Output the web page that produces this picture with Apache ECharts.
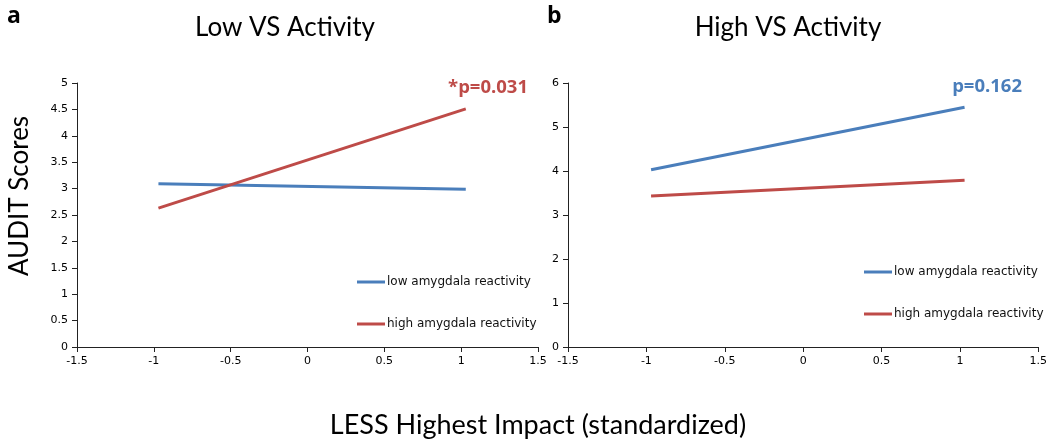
<!DOCTYPE html>
<html>
<head>
<meta charset="utf-8">
<script src="https://cdn.jsdelivr.net/npm/echarts@6/dist/echarts.min.js"></script>
<style>html,body{margin:0;padding:0;background:#fff}#c{width:1050px;height:440px}</style>
</head>
<body>
<div id="c"></div>
<script>
// ---- data ----
const xPoints = [-0.97, 1.03];
const lowVS_low = [3.09, 2.99];   // low amygdala reactivity (panel a)
const lowVS_high = [2.63, 4.51];  // high amygdala reactivity (panel a)
const highVS_low = [4.03, 5.45];  // panel b
const highVS_high = [3.43, 3.79]; // panel b
const xTickLabels = ['-1.5', '-1', '-0.5', '0', '0.5', '1', '1.5'];
const yTickLabelsA = ['0', '0.5', '1', '1.5', '2', '2.5', '3', '3.5', '4', '4.5', '5'];
const yTickLabelsB = ['0', '1', '2', '3', '4', '5', '6'];
const seriesNames = ['low amygdala reactivity', 'high amygdala reactivity'];
const panelTitles = ['Low VS Activity', 'High VS Activity'];
const panelLetters = ['a', 'b'];
const pLabels = ['*p=0.031', 'p=0.162'];
const yAxisTitle = 'AUDIT Scores';
const xAxisTitle = 'LESS Highest Impact (standardized)';

const BLUE = '#4a7ebb';
const RED = '#be4b48';
const AX = '#222';
const tickFont = { fontFamily: 'DejaVu Sans', fontSize: 11, color: '#000' };

function pairs(ys) { return xPoints.map((x, i) => [x, ys[i]]); }
function xLab(v) { const i = Math.round((v + 1.5) / 0.5); return xTickLabels[i] ?? ''; }

function xAxis(gi) {
  return {
    gridIndex: gi, type: 'value', min: -1.5, max: 1.5, interval: 0.5,
    axisLine: { onZero: false, lineStyle: { color: AX, width: 1 } },
    axisTick: { show: true, inside: false, length: 5, lineStyle: { color: AX } },
    axisLabel: Object.assign({ margin: 9, formatter: xLab }, tickFont),
    splitLine: { show: false }
  };
}
function yAxis(gi, max, interval, labels) {
  return {
    gridIndex: gi, type: 'value', min: 0, max: max, interval: interval,
    axisLine: { show: true, onZero: false, lineStyle: { color: AX, width: 1 } },
    axisTick: { show: true, inside: false, length: 5, lineStyle: { color: AX } },
    axisLabel: Object.assign({ margin: 9, formatter: v => labels[Math.round(v / interval)] ?? '' }, tickFont),
    splitLine: { show: false }
  };
}
function line(name, gi, ys, color) {
  return {
    name, type: 'line', xAxisIndex: gi, yAxisIndex: gi, data: pairs(ys),
    symbol: 'none', lineStyle: { color, width: 3 }, itemStyle: { color }, animation: false
  };
}
function legend(left, top) {
  return {
    data: seriesNames, left, top, orient: 'vertical', itemGap: 30,
    icon: 'rect', itemWidth: 28, itemHeight: 3,
    textStyle: { fontFamily: 'DejaVu Sans', fontSize: 12, color: '#111', padding: [0, 0, 0, -3] },
    selectedMode: false
  };
}
const titleFont = 'Lato';
const chart = echarts.init(document.getElementById('c'), null, { renderer: 'canvas' });
chart.setOption({
  animation: false,
  grid: [
    { left: 77, top: 83, width: 461, height: 264 },
    { left: 568, top: 83, width: 472, height: 264 }
  ],
  xAxis: [xAxis(0), xAxis(1)],
  yAxis: [yAxis(0, 5, 0.5, yTickLabelsA), yAxis(1, 6, 1, yTickLabelsB)],
  legend: [legend(352, 271), legend(859, 261)],
  series: [
    line(seriesNames[0], 0, lowVS_low, BLUE),
    line(seriesNames[1], 0, lowVS_high, RED),
    line(seriesNames[0], 1, highVS_low, BLUE),
    line(seriesNames[1], 1, highVS_high, RED)
  ],
  graphic: [
    { type: 'text', left: 7, top: 5, style: { text: panelLetters[0], font: 'bold 23px "Open Sans"', fill: '#000' } },
    { type: 'text', left: 547, top: 5, style: { text: panelLetters[1], font: 'bold 23px "Open Sans"', fill: '#000' } },
    { type: 'text', x: 285, y: 28, style: { text: panelTitles[0], font: '26px ' + titleFont, fill: '#000', align: 'center', verticalAlign: 'middle' } },
    { type: 'text', x: 788, y: 28, style: { text: panelTitles[1], font: '26px ' + titleFont, fill: '#000', align: 'center', verticalAlign: 'middle' } },
    { type: 'text', x: 528, y: 88, style: { text: pLabels[0], font: 'bold 18.5px "Open Sans"', fill: RED, align: 'right', verticalAlign: 'middle' } },
    { type: 'text', x: 1022, y: 87, style: { text: pLabels[1], font: 'bold 18.5px "Open Sans"', fill: BLUE, align: 'right', verticalAlign: 'middle' } },
    { type: 'text', x: 20, y: 196, rotation: Math.PI / 2, style: { text: yAxisTitle, font: '26px ' + titleFont, fill: '#000', align: 'center', verticalAlign: 'middle' } },
    { type: 'text', x: 538, y: 425, style: { text: xAxisTitle, font: '27px ' + titleFont, fill: '#000', align: 'center', verticalAlign: 'middle' } }
  ]
});
</script>
</body>
</html>
